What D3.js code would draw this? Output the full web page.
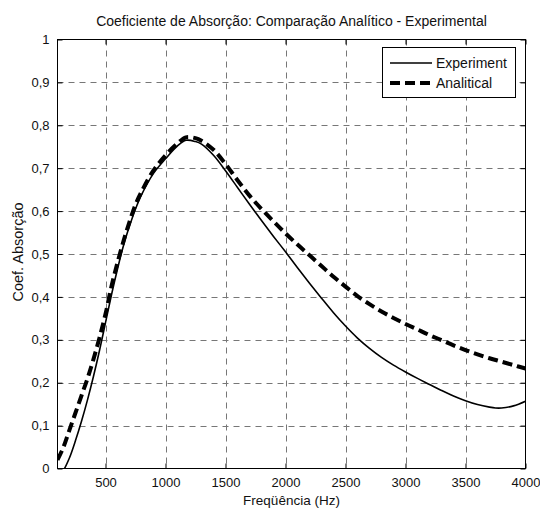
<!DOCTYPE html>
<html><head><meta charset="utf-8">
<script src="https://cdn.jsdelivr.net/npm/d3@7"></script>
<style>body{margin:0;background:#fff}svg{display:block}text{font-family:"Liberation Sans",Arial,sans-serif;fill:#111}</style>
</head><body><svg id="c" width="540" height="512"></svg>
<script>
const expFreq = [100,150,200,250,300,350,400,450,500,550,600,650,700,750,800,900,1000,1100,1170,1250,1300,1400,1500,1600,1700,1800,1900,2000,2100,2200,2300,2400,2500,2600,2700,2800,2900,3000,3100,3200,3300,3400,3500,3600,3700,3750,3800,3900,4000];
const expVal  = [-0.02,-0.004,0.025,0.065,0.11,0.16,0.215,0.275,0.34,0.405,0.465,0.52,0.565,0.605,0.638,0.688,0.722,0.752,0.765,0.762,0.756,0.73,0.694,0.655,0.616,0.578,0.541,0.505,0.468,0.432,0.397,0.363,0.332,0.304,0.28,0.259,0.241,0.225,0.21,0.196,0.182,0.169,0.158,0.149,0.143,0.141,0.141,0.146,0.157];
const anaFreq = [100,150,200,250,300,350,400,450,500,550,600,650,700,750,800,900,1000,1100,1170,1250,1300,1400,1500,1600,1700,1800,1900,2000,2100,2200,2300,2400,2500,2600,2700,2800,2900,3000,3100,3200,3300,3400,3500,3600,3700,3800,3900,4000];
const anaVal  = [0.02,0.05,0.09,0.13,0.17,0.21,0.255,0.305,0.36,0.425,0.48,0.53,0.575,0.615,0.645,0.695,0.73,0.758,0.772,0.77,0.764,0.743,0.71,0.672,0.636,0.605,0.576,0.548,0.522,0.497,0.472,0.447,0.424,0.402,0.383,0.366,0.351,0.337,0.324,0.311,0.299,0.287,0.276,0.266,0.257,0.249,0.241,0.233];
const xTicks = [500,1000,1500,2000,2500,3000,3500,4000];
const yTicks = [0,0.1,0.2,0.3,0.4,0.5,0.6,0.7,0.8,0.9,1];
const seriesNames = ["Experiment","Analitical"];
const title = "Coeficiente de Absorção: Comparação Analítico - Experimental";
const xLabel = "Freqüência (Hz)";
const yLabel = "Coef. Absorção";

const L=57.5,R=525.5,T=39.5,B=468.5;
const svg=d3.select("#c");
const x=d3.scaleLinear().domain([100,4000]).range([L,R]);
const y=d3.scaleLinear().domain([0,1]).range([B,T]);
const fmt=v=>v===0?"0":v===1?"1":d3.format(".1f")(v).replace(".",",");

// grid
const g=svg.append("g");
g.selectAll(".vx").data(xTicks.filter(t=>t<4000)).join("line")
 .attr("x1",d=>Math.round(x(d))+0.5).attr("x2",d=>Math.round(x(d))+0.5).attr("y1",T).attr("y2",B)
 .attr("stroke","#777").attr("stroke-dasharray","6,5");
g.selectAll(".hy").data(yTicks.filter(t=>t>0&&t<1)).join("line")
 .attr("y1",d=>Math.round(y(d))+0.5).attr("y2",d=>Math.round(y(d))+0.5).attr("x1",L).attr("x2",R)
 .attr("stroke","#777").attr("stroke-dasharray","6,5");

// axes (inward ticks)
const ax=d3.axisBottom(x).tickValues(xTicks).tickSize(-5).tickPadding(9).tickFormat(d3.format("d"));
const ay=d3.axisLeft(y).tickValues(yTicks).tickSize(-5).tickPadding(8).tickFormat(fmt);
svg.append("g").attr("transform",`translate(0,${B})`).call(ax).call(s=>{s.select(".domain").remove();s.selectAll("text").attr("font-size",13).attr("font-family","Liberation Sans, Arial");});
svg.append("g").attr("transform",`translate(${L},0)`).call(ay).call(s=>{s.select(".domain").remove();s.selectAll("text").attr("font-size",13).attr("font-family","Liberation Sans, Arial");});
svg.append("g").attr("transform",`translate(0,${T})`).call(d3.axisTop(x).tickValues(xTicks).tickSize(-5).tickFormat("")).call(s=>s.select(".domain").remove());
svg.append("g").attr("transform",`translate(${R},0)`).call(d3.axisRight(y).tickValues(yTicks).tickSize(-5).tickFormat("")).call(s=>s.select(".domain").remove());
svg.append("rect").attr("x",L).attr("y",T).attr("width",R-L).attr("height",B-T).attr("fill","none").attr("stroke","#000");

// curves
svg.append("clipPath").attr("id","clip").append("rect").attr("x",L).attr("y",T).attr("width",R-L).attr("height",B-T);
const line=d3.line().x(d=>x(d[0])).y(d=>y(d[1])).curve(d3.curveCatmullRom.alpha(0.5));
const expData=expFreq.map((f,i)=>[f,expVal[i]]);
const anaData=anaFreq.map((f,i)=>[f,anaVal[i]]);
const cg=svg.append("g").attr("clip-path","url(#clip)");
cg.append("path").datum(expData).attr("d",line).attr("fill","none").attr("stroke","#000").attr("stroke-width",1.6);
cg.append("path").datum(anaData).attr("d",line).attr("fill","none").attr("stroke","#000").attr("stroke-width",4).attr("stroke-dasharray","10,5");

// legend
const lg=svg.append("g");
lg.append("rect").attr("x",382.5).attr("y",47.5).attr("width",133).attr("height",50).attr("fill","#fff").attr("stroke","#000");
lg.append("line").attr("x1",390).attr("x2",432).attr("y1",63).attr("y2",63).attr("stroke","#000").attr("stroke-width",1.6);
lg.append("line").attr("x1",390).attr("x2",432).attr("y1",83).attr("y2",83).attr("stroke","#000").attr("stroke-width",4).attr("stroke-dasharray","10,5");
lg.selectAll("text.lt").data(seriesNames).join("text").attr("x",436).attr("y",(d,i)=>68+i*20).attr("font-size",14).text(d=>d);

// labels
svg.append("text").attr("x",(L+R)/2).attr("y",26).attr("text-anchor","middle").attr("font-size",14).text(title);
svg.append("text").attr("x",(L+R)/2).attr("y",505).attr("text-anchor","middle").attr("font-size",13.5).text(xLabel);
svg.append("text").attr("transform",`translate(23,${(T+B)/2-2}) rotate(-90)`).attr("text-anchor","middle").attr("font-size",14.5).text(yLabel);
</script></body></html>
